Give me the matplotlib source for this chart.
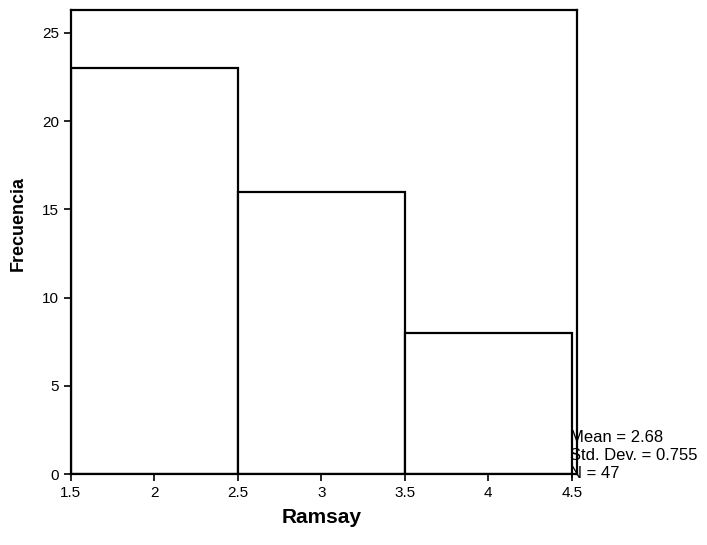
import matplotlib.pyplot as plt

# Histogram of Ramsay scores
bin_edges = [1.5, 2.5, 3.5, 4.5]
counts = [23, 16, 8]
x_ticks = [1.5, 2, 2.5, 3, 3.5, 4, 4.5]
x_tick_labels = ["1.5", "2", "2.5", "3", "3.5", "4", "4.5"]
y_ticks = [0, 5, 10, 15, 20, 25]
stats_lines = ["Mean = 2.68", "Std. Dev. = 0.755", "N = 47"]

plt.rcParams['font.family'] = ['Liberation Sans', 'DejaVu Sans']

fig = plt.figure(figsize=(7.07, 5.45), dpi=100)
ax = fig.add_axes([0.100, 0.130, 0.716, 0.852])

lefts = bin_edges[:-1]
widths = [bin_edges[i + 1] - bin_edges[i] for i in range(len(counts))]
ax.bar(lefts, counts, width=widths, align="edge", color="white",
       edgecolor="black", linewidth=1.6)

ax.set_xlim(1.5, 4.53)
ax.set_ylim(0, 26.3)
ax.set_xticks(x_ticks)
ax.set_xticklabels(x_tick_labels)
ax.set_yticks(y_ticks)
ax.tick_params(direction="out", length=5, width=1.2, labelsize=11)
for s in ax.spines.values():
    s.set_linewidth(1.6)

ax.set_xlabel("Ramsay", fontsize=15, fontweight="bold", va="center")
ax.xaxis.set_label_coords(0.496, -0.093)
ax.set_ylabel("Frecuencia", fontsize=13, fontweight="bold", va="center",
              rotation_mode="anchor")
ax.yaxis.set_label_coords(-0.103, 0.539)

for i, line in enumerate(stats_lines):
    ax.text(4.49, 2.1 - i * 1.02, line, fontsize=12, ha="left", va="center",
            clip_on=False)

fig.savefig("out.png", dpi=100)
